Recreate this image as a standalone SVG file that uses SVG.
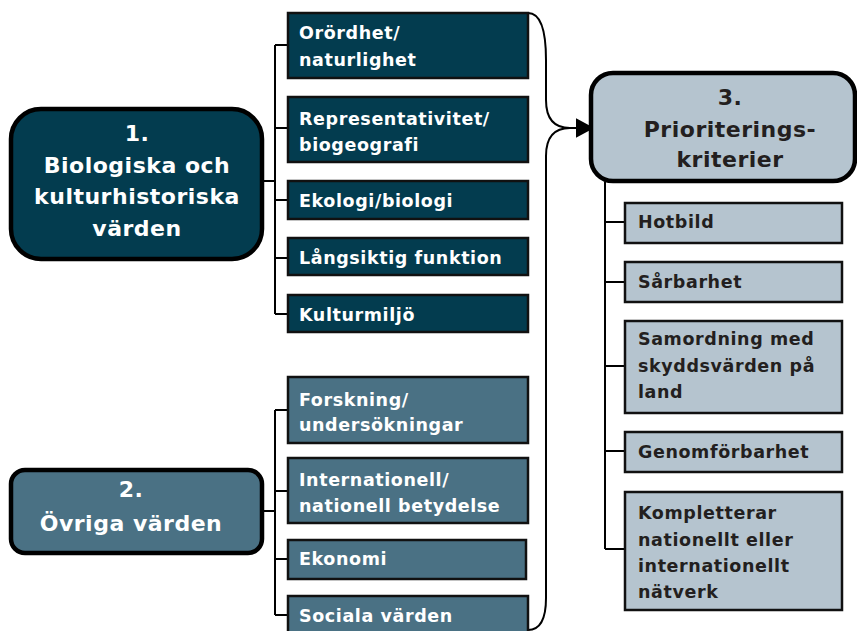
<svg xmlns="http://www.w3.org/2000/svg" width="857" height="631" viewBox="0 0 857 631">
<style>
text{font-family:"DejaVu Sans","Liberation Sans",Arial,sans-serif;font-weight:bold}
.big{stroke:#000;stroke-width:4.5}
.box{stroke:#111;stroke-width:2.5}
.d{fill:#033c4f}
.m{fill:#4a7184}
.l{fill:#b5c4cf}
.tw{fill:#fff}
.tk{fill:#231f20}
.t1{font-size:22px;letter-spacing:0.5px}
.t2{font-size:17.5px;letter-spacing:0.6px}
.c{fill:none;stroke:#000;stroke-width:2}
</style>
<g id="connectors">
<path class="c" d="M262,181 H275 M275,45 V314 M275,45 H288 M275,128 H288 M275,200 H288 M275,258 H288 M275,314 H288"/>
<path class="c" d="M262,511 H275 M275,410 V615 M275,410 H288 M275,491 H288 M275,559 H288 M275,615 H288"/>
<path class="c" d="M605,182 V549 M605,222 H625 M605,282 H625 M605,366 H625 M605,451 H625 M605,549 H625"/>
<path class="c" d="M528,13 C541,13 546,30 546,60 V100 C546,118 554,128 570,128 C554,128 546,138 546,156 V598 C546,618 541,630 528,630"/>
<path d="M570,128 H577 M577,120 L592,128 L577,136 Z" fill="#000" stroke="#000" stroke-width="2"/>
</g>
<g id="node1">
<rect class="big d" x="11" y="109" width="251" height="150" rx="30"/>
<text class="t1 tw" text-anchor="middle"><tspan x="137" y="141">1.</tspan><tspan x="137" y="173">Biologiska och</tspan><tspan x="137" y="204">kulturhistoriska</tspan><tspan x="137" y="236">värden</tspan></text>
</g>
<g id="node2">
<rect class="big m" x="11" y="470" width="251" height="83" rx="14"/>
<text class="t1 tw" text-anchor="middle"><tspan x="131" y="497">2.</tspan><tspan x="131" y="531">Övriga värden</tspan></text>
</g>
<g id="node3">
<rect class="big l" x="591" y="73" width="264" height="108" rx="22"/>
<text class="t1 tk" text-anchor="middle"><tspan x="730" y="105">3.</tspan><tspan x="730" y="137">Prioriterings-</tspan><tspan x="730" y="167">kriterier</tspan></text>
</g>
<g id="a1"><rect class="box d" x="288" y="13" width="240" height="65"/><text class="t2 tw"><tspan x="299" y="39">Orördhet/</tspan><tspan x="299" y="66">naturlighet</tspan></text></g>
<g id="a2"><rect class="box d" x="288" y="97" width="240" height="65"/><text class="t2 tw"><tspan x="299" y="125">Representativitet/</tspan><tspan x="299" y="151">biogeografi</tspan></text></g>
<g id="a3"><rect class="box d" x="288" y="181" width="240" height="38"/><text class="t2 tw" x="299" y="207">Ekologi/biologi</text></g>
<g id="a4"><rect class="box d" x="288" y="238" width="240" height="37"/><text class="t2 tw" x="299" y="264">Långsiktig funktion</text></g>
<g id="a5"><rect class="box d" x="288" y="295" width="240" height="37"/><text class="t2 tw" x="299" y="321">Kulturmiljö</text></g>
<g id="b1"><rect class="box m" x="288" y="377" width="240" height="66"/><text class="t2 tw"><tspan x="299" y="406">Forskning/</tspan><tspan x="299" y="431">undersökningar</tspan></text></g>
<g id="b2"><rect class="box m" x="288" y="458" width="240" height="65"/><text class="t2 tw"><tspan x="299" y="486">Internationell/</tspan><tspan x="299" y="512">nationell betydelse</tspan></text></g>
<g id="b3"><rect class="box m" x="288" y="540" width="238" height="39"/><text class="t2 tw" x="299" y="565">Ekonomi</text></g>
<g id="b4"><rect class="box m" x="288" y="596" width="240" height="40"/><text class="t2 tw" x="299" y="622">Sociala värden</text></g>
<g id="c1"><rect class="box l" x="625" y="203" width="217" height="40"/><text class="t2 tk" x="638" y="228">Hotbild</text></g>
<g id="c2"><rect class="box l" x="625" y="262" width="217" height="40"/><text class="t2 tk" x="638" y="288">Sårbarhet</text></g>
<g id="c3"><rect class="box l" x="625" y="321" width="217" height="92"/><text class="t2 tk"><tspan x="638" y="345">Samordning med</tspan><tspan x="638" y="372">skyddsvärden på</tspan><tspan x="638" y="398">land</tspan></text></g>
<g id="c4"><rect class="box l" x="625" y="432" width="217" height="40"/><text class="t2 tk" x="638" y="458">Genomförbarhet</text></g>
<g id="c5"><rect class="box l" x="625" y="492" width="217" height="118"/><text class="t2 tk"><tspan x="638" y="519">Kompletterar</tspan><tspan x="638" y="546">nationellt eller</tspan><tspan x="638" y="572">internationellt</tspan><tspan x="638" y="598">nätverk</tspan></text></g>
</svg>
